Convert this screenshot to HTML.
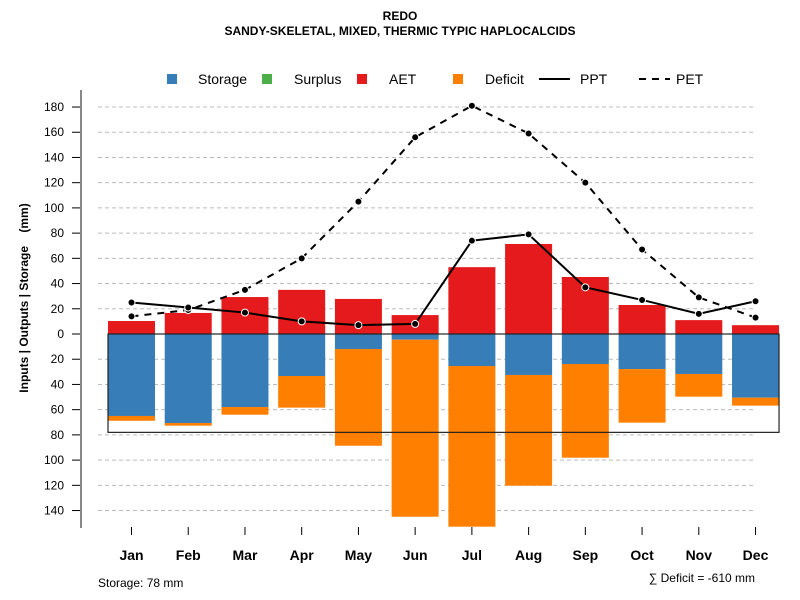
<!DOCTYPE html>
<html><head><meta charset="utf-8"><style>
body{margin:0;background:#fff}
svg{display:block;font-family:"Liberation Sans",sans-serif}
</style></head><body>
<svg id="chart" width="800" height="600">
<text x="400" y="20" text-anchor="middle" font-size="12" font-weight="bold">REDO</text>
<text x="400" y="35" text-anchor="middle" font-size="12" font-weight="bold">SANDY-SKELETAL, MIXED, THERMIC TYPIC HAPLOCALCIDS</text>
<g font-size="14">
<g><rect x="167" y="74" width="10" height="10" fill="#377eb8"/><text x="198" y="84">Storage</text></g>
<g><rect x="262" y="74" width="10" height="10" fill="#4daf4a"/><text x="294" y="84">Surplus</text></g>
<g><rect x="357" y="74" width="10" height="10" fill="#e41a1c"/><text x="389" y="84">AET</text></g>
<g><rect x="453" y="74" width="10" height="10" fill="#ff7f00"/><text x="485" y="84">Deficit</text></g>
<g><line x1="539" y1="79" x2="570" y2="79" stroke="#000" stroke-width="2"/><text x="580" y="84">PPT</text></g>
<g><line x1="639" y1="79" x2="670" y2="79" stroke="#000" stroke-width="2" stroke-dasharray="7,6"/><text x="676" y="84">PET</text></g>
</g>
<text transform="translate(28,298) rotate(-90)" text-anchor="middle" font-size="12" font-weight="bold">Inputs | Outputs | Storage&#160;&#160;&#160;&#160;(mm)</text>
<g id="grid"></g><g id="bars"></g><g id="lines"></g><g id="axes"></g>
<text x="98" y="587" font-size="12">Storage: 78 mm</text>
<text x="755" y="582" text-anchor="end" font-size="12">∑ Deficit = -610 mm</text>
</svg>
<script>
const months=["Jan","Feb","Mar","Apr","May","Jun","Jul","Aug","Sep","Oct","Nov","Dec"];
const aet=[10.3,16.7,29.3,35,27.8,15,53,71.4,45.2,23,11,7];
const storage=[65,70.6,57.9,33.3,11.9,4.5,25.4,32.5,23.8,27.8,31.7,50.5];
const deficit=[3.8,2.1,6.1,25.1,76.7,140.4,127.4,87.8,74.3,42.5,18,6.3];
const ppt=[25,21,17,10,7,8,74,79,37,27,16,26];
const pet=[14,19,35,60,105,156,181,159,120,67,29,13];
const yTicks=[180,160,140,120,100,80,60,40,20,0,-20,-40,-60,-80,-100,-120,-140];
const storageCap=78;
const NS="http://www.w3.org/2000/svg";
const y0=334,k=1.261;
function Y(v){return y0-v*k;}
function X(i){return 131.5+i*56.73;}
const bw=47;
function mk(tag,attrs,parent){const e=document.createElementNS(NS,tag);for(const a in attrs)e.setAttribute(a,attrs[a]);parent.appendChild(e);return e;}
const grid=document.getElementById('grid'),bars=document.getElementById('bars'),lines=document.getElementById('lines'),axes=document.getElementById('axes');
yTicks.forEach(t=>{
 if(t!==0){const g=mk('line',{x1:98,x2:756,y1:Y(t),y2:Y(t),stroke:'#bbb','stroke-dasharray':'4,3'},grid);
 
 }
 const tk=mk('line',{x1:72,x2:81,y1:Y(t),y2:Y(t),stroke:'#000'},axes);
 
 
 const tx=mk('text',{x:64,y:Y(t)+4,'text-anchor':'end','font-size':12},axes);
 tx.textContent=Math.abs(t);
 
 
});
const ax=mk('line',{x1:81,x2:81,y1:90,y2:528,stroke:'#888','stroke-width':2},axes);


months.forEach((m,i)=>{
 const x=X(i);
 let r=mk('rect',{x:x-bw/2,y:Y(aet[i]),width:bw,height:aet[i]*k,fill:'#e41a1c'},bars);
 
 
 r=mk('rect',{x:x-bw/2,y:y0,width:bw,height:storage[i]*k,fill:'#377eb8'},bars);
 
 
 r=mk('rect',{x:x-bw/2,y:Y(-storage[i]),width:bw,height:deficit[i]*k,fill:'#ff7f00'},bars);
 
 
 const t=mk('line',{x1:x,x2:x,y1:527,y2:535,stroke:'#000'},axes);
 
 
 const l=mk('text',{x:x,y:560,'text-anchor':'middle','font-size':14,'font-weight':'bold'},axes);
 l.textContent=m;
 
 
});
const box=mk('rect',{x:X(0)-bw/2,y:y0,width:X(11)+bw/2-(X(0)-bw/2),height:storageCap*k,fill:'none',stroke:'#222','stroke-width':1.2},bars);


function series(vals,dash,name){
 const p=mk('polyline',{points:vals.map((v,i)=>X(i)+','+Y(v)).join(' '),fill:'none',stroke:'#000','stroke-width':2,'stroke-dasharray':dash},lines);
 
 
 vals.forEach((v,i)=>{const c=mk('circle',{cx:X(i),cy:Y(v),r:3.5,fill:'#000',stroke:'#fff','stroke-width':1},lines);
 
 });
}
series(pet,'7,6','pet');
series(ppt,'none','ppt');
</script>
</body></html>
